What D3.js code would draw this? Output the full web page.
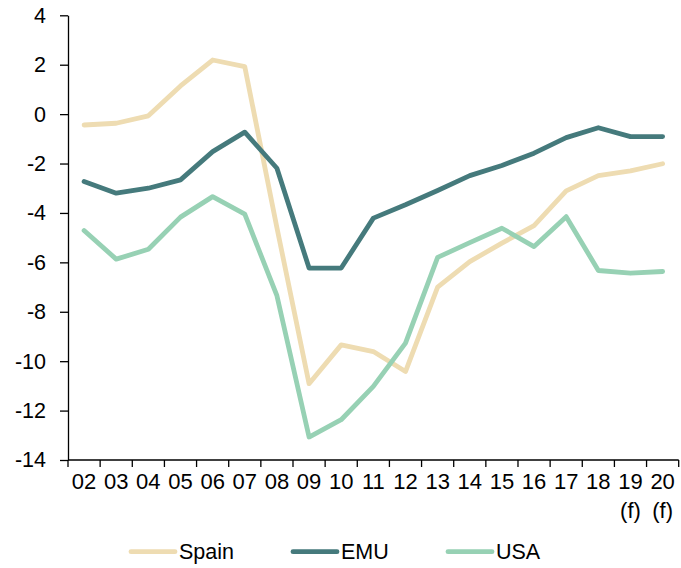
<!DOCTYPE html>
<html>
<head>
<meta charset="utf-8">
<script src="https://cdn.jsdelivr.net/npm/d3@7/dist/d3.min.js"></script>
<style>
  html, body { margin: 0; padding: 0; background: #fff; }
  svg { display: block; font-family: "Liberation Sans", Arial, sans-serif; }
</style>
</head>
<body>
<svg id="chart" width="681" height="568"></svg>
<script>
// Years on the x axis (forecast years carry a second "(f)" line)
const years = ["02","03","04","05","06","07","08","09","10","11","12","13","14","15","16","17","18","19","20"];
const forecastYears = ["19","20"];

// Series values
const spain = [-0.44,-0.37,-0.07,1.14,2.19,1.92,-4.6,-10.91,-9.34,-9.61,-10.42,-7.0,-5.97,-5.22,-4.51,-3.11,-2.49,-2.30,-2.01];
const emu   = [-2.73,-3.20,-3.00,-2.66,-1.52,-0.73,-2.19,-6.23,-6.23,-4.21,-3.67,-3.09,-2.49,-2.08,-1.58,-0.95,-0.55,-0.91,-0.91];
const usa   = [-4.71,-5.87,-5.47,-4.17,-3.34,-4.05,-7.35,-13.07,-12.37,-11.02,-9.27,-5.80,-5.20,-4.62,-5.36,-4.15,-6.33,-6.44,-6.37];

const yTicks = [4,2,0,-2,-4,-6,-8,-10,-12,-14];

const seriesNames = ["Spain","EMU","USA"];
const seriesColors = ["#eedcb2","#457a7c","#97d1b4"];
const seriesValues = [spain, emu, usa];

const svg = d3.select("#chart");

const plotLeft = 68, plotRight = 678.7, plotTop = 15.3, plotBottom = 460;

const x = d3.scaleBand().domain(years).range([plotLeft, plotRight]).padding(0);
const y = d3.scaleLinear().domain([-14, 4]).range([plotBottom, plotTop]);

// Y axis
const yAxis = svg.append("g")
  .attr("transform", `translate(${plotLeft},0)`)
  .call(d3.axisLeft(y).tickValues(yTicks).tickFormat(d3.format("d")).tickSize(8).tickSizeOuter(0).tickPadding(14));
yAxis.select(".domain").attr("stroke", "#000").attr("stroke-width", 1.3);
yAxis.selectAll(".tick line").attr("stroke", "#000").attr("stroke-width", 1.3);
yAxis.selectAll(".tick text")
  .attr("fill", "#000")
  .style("font-size", "21.5px")
  .style("font-family", "'Liberation Sans', Arial, sans-serif")
  .text(d => d < 0 ? "-" + Math.abs(d) : String(d));

// X axis: ticks at category boundaries, labels at band centres
const xAxis = svg.append("g")
  .attr("transform", `translate(0,${plotBottom})`)
  .call(d3.axisBottom(x).tickSize(0).tickSizeOuter(0).tickPadding(0));
xAxis.select(".domain").remove();
xAxis.selectAll(".tick text").remove();

const boundaries = years.map(d => x(d)).concat([x.range()[1]]);
xAxis.append("line")
  .attr("x1", plotLeft).attr("x2", plotRight).attr("y1", 0).attr("y2", 0)
  .attr("stroke", "#000").attr("stroke-width", 1.3);
xAxis.selectAll("line.bound")
  .data(boundaries)
  .join("line")
  .attr("class", "bound")
  .attr("x1", d => d).attr("x2", d => d)
  .attr("y1", 0).attr("y2", 7)
  .attr("stroke", "#000").attr("stroke-width", 1.3);

xAxis.selectAll("text.yr")
  .data(years)
  .join("text")
  .attr("class", "yr")
  .attr("x", d => x(d) + x.bandwidth() / 2)
  .attr("y", 29.3)
  .attr("text-anchor", "middle")
  .style("font-size", "22px")
  .attr("fill", "#000")
  .text(d => d);

xAxis.selectAll("text.fc")
  .data(forecastYears)
  .join("text")
  .attr("class", "fc")
  .attr("x", d => x(d) + x.bandwidth() / 2)
  .attr("y", 58)
  .attr("text-anchor", "middle")
  .style("font-size", "22px")
  .attr("fill", "#000")
  .text("(f)");

// Lines
const line = d3.line()
  .x((d, i) => x(years[i]) + x.bandwidth() / 2)
  .y(d => y(d));

svg.append("g")
  .selectAll("path")
  .data(seriesValues)
  .join("path")
  .attr("d", d => line(d))
  .attr("fill", "none")
  .attr("stroke", (d, i) => seriesColors[i])
  .attr("stroke-width", 4.8)
  .attr("stroke-linejoin", "round")
  .attr("stroke-linecap", "round");

// Legend
const legendX = [131, 293, 448];
const legendY = 551.7;
const lg = svg.append("g")
  .selectAll("g")
  .data(seriesNames)
  .join("g")
  .attr("transform", (d, i) => `translate(${legendX[i]},${legendY})`);
lg.append("line")
  .attr("x1", 0).attr("x2", 44)
  .attr("stroke", (d, i) => seriesColors[i])
  .attr("stroke-width", 4.8)
  .attr("stroke-linecap", "round");
lg.append("text")
  .attr("x", 48)
  .attr("y", 7.5)
  .style("font-size", "21.5px")
  .attr("fill", "#000")
  .text(d => d);
</script>
</body>
</html>
